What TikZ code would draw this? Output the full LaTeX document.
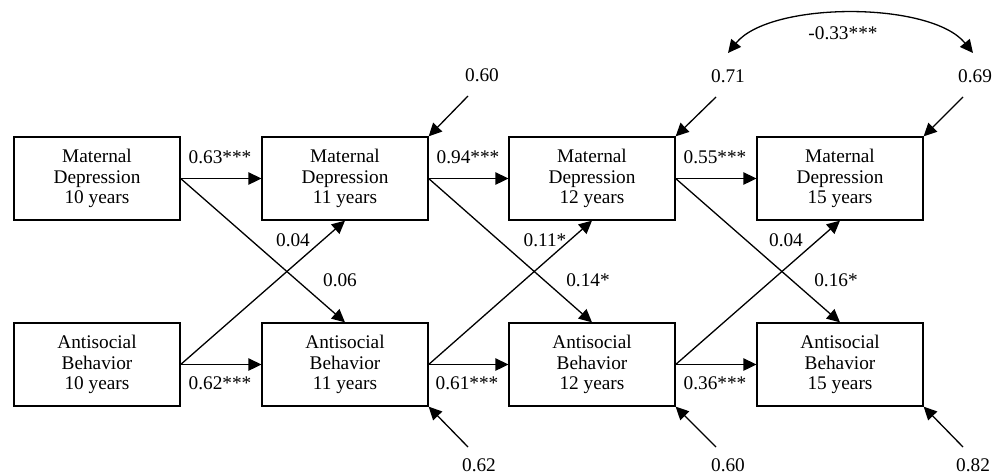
\documentclass[tikz,border=0pt]{standalone}
\usepackage{fontspec}
\setmainfont{Liberation Serif}
\usetikzlibrary{arrows.meta}
\begin{document}
\begin{tikzpicture}[x=1pt,y=-1pt,
  box/.style={draw,line width=1.3pt,minimum width=166pt,minimum height=83pt,inner sep=0pt,align=center,font=\fontsize{19.3}{20.4}\selectfont},
  lbl/.style={inner sep=0pt,font=\fontsize{19.3}{20.4}\selectfont},
  pth/.style={line width=1.3pt,-{Triangle[length=13pt,width=12.5pt]}},
  dpth/.style={line width=1.3pt,{Triangle[length=13pt,width=12.5pt]}-{Triangle[length=13pt,width=12.5pt]}}]
\useasboundingbox (0,0) rectangle (1003,474);
% boxes
\node[box] (md10) at (97,178.5) {Maternal\\Depression\\10 years};
\node[box] (md11) at (345,178.5) {Maternal\\Depression\\11 years};
\node[box] (md12) at (592,178.5) {Maternal\\Depression\\12 years};
\node[box] (md15) at (840,178.5) {Maternal\\Depression\\15 years};
\node[box] (ab10) at (97,364.5) {Antisocial\\Behavior\\10 years};
\node[box] (ab11) at (345,364.5) {Antisocial\\Behavior\\11 years};
\node[box] (ab12) at (592,364.5) {Antisocial\\Behavior\\12 years};
\node[box] (ab15) at (840,364.5) {Antisocial\\Behavior\\15 years};
% stability paths
\draw[pth] (md10.east) -- (md11.west);
\draw[pth] (md11.east) -- (md12.west);
\draw[pth] (md12.east) -- (md15.west);
\draw[pth] (ab10.east) -- (ab11.west);
\draw[pth] (ab11.east) -- (ab12.west);
\draw[pth] (ab12.east) -- (ab15.west);
% cross paths
\draw[pth] (md10.east) -- (ab11.north);
\draw[pth] (ab10.east) -- (md11.south);
\draw[pth] (md11.east) -- (ab12.north);
\draw[pth] (ab11.east) -- (md12.south);
\draw[pth] (md12.east) -- (ab15.north);
\draw[pth] (ab12.east) -- (md15.south);
% path labels
\node[lbl] (l1) at (220,157) {0.63***};
\node[lbl] (l2) at (468,157) {0.94***};
\node[lbl] (l3) at (715,157) {0.55***};
\node[lbl] (l4) at (220,383) {0.62***};
\node[lbl] (l5) at (467,383) {0.61***};
\node[lbl] (l6) at (715,383) {0.36***};
\node[lbl] (l7) at (293,240) {0.04};
\node[lbl] (l8) at (340,280) {0.06};
\node[lbl] (l9) at (545,240) {0.11*};
\node[lbl] (l10) at (588,280) {0.14*};
\node[lbl] (l11) at (786,240) {0.04};
\node[lbl] (l12) at (836,280) {0.16*};
% residuals
\node[lbl] (e1) at (482,75) {0.60};
\node[lbl] (e2) at (728,76) {0.71};
\node[lbl] (e3) at (975,76) {0.69};
\node[lbl] (e4) at (479,465) {0.62};
\node[lbl] (e5) at (728,465) {0.60};
\node[lbl] (e6) at (973,465) {0.82};
\coordinate (r1) at (468,96);
\coordinate (r2) at (716,97);
\coordinate (r3) at (963,97);
\coordinate (r4) at (468,447);
\coordinate (r5) at (716,447);
\coordinate (r6) at (963,447);
\draw[pth] (r1) -- (md11.north east);
\draw[pth] (r2) -- (md12.north east);
\draw[pth] (r3) -- (md15.north east);
\draw[pth] (r4) -- (ab11.south east);
\draw[pth] (r5) -- (ab12.south east);
\draw[pth] (r6) -- (ab15.south east);
% covariance
\coordinate (cl) at (728,53);
\coordinate (cr) at (973,53);
\draw[dpth] (cl) .. controls (770,1) and (931,1) .. (cr);
\node[lbl] (cv) at (843,33) {-0.33***};
\end{tikzpicture}
\end{document}
